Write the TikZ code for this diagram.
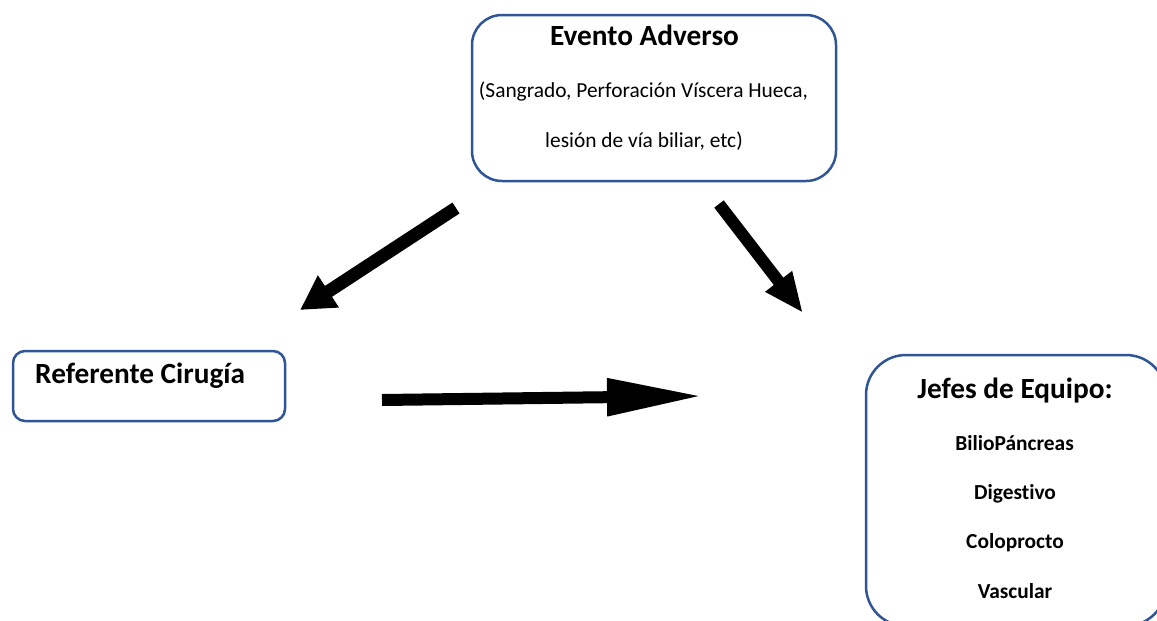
\documentclass[tikz,border=0pt]{standalone}
\usepackage{fontspec}
\setmainfont{Carlito}[Ligatures={NoCommon}]
\usetikzlibrary{arrows.meta}
\definecolor{boxblue}{RGB}{47,85,151}
\tikzset{
  rbox/.style={draw=boxblue, line width=2.5pt, fill=white},
  big/.style={font=\fontsize{29.3}{34}\selectfont\bfseries, inner sep=0pt, anchor=base},
  small/.style={font=\fontsize{21.4}{25}\selectfont, inner sep=0pt, anchor=base},
  smallb/.style={font=\fontsize{21.4}{25}\selectfont\bfseries, inner sep=0pt, anchor=base},
  blockarrow/.style={line cap=butt, draw=black}
}
\begin{document}
\begin{tikzpicture}[x=1pt,y=-1pt]
\useasboundingbox (0,0) rectangle (1157,621);
\begin{scope}
\clip (0,0) rectangle (1157,621);
% boxes
\draw[rbox, rounded corners=30pt] (472,15) rectangle (836,181);
\draw[rbox, rounded corners=12pt] (13,351) rectangle (285,421);
\draw[rbox, rounded corners=40pt] (866,355) rectangle (1166,626);
\end{scope}
% texts
\node[big] (ev) at (644.5,45) {Evento Adverso};
\node[small] (ev2) at (643.5,97) {(Sangrado, Perforación Víscera Hueca,};
\node[small] (ev3) at (644,147) {lesión de vía biliar, etc)};
\node[big, anchor=base west] (ref) at (35,383) {Referente Cirugía};
\node[big] (jef) at (1015,398) {Jefes de Equipo:};
\node[smallb] (j1) at (1014.5,450) {BilioPáncreas};
\node[smallb] (j2) at (1015,499) {Digestivo};
\node[smallb] (j3) at (1015,548) {Coloprocto};
\node[smallb] (j4) at (1015,598) {Vascular};
% arrow coordinates
\coordinate (a1s) at (456,208);
\coordinate (a1e) at (300,310);
\coordinate (a2s) at (719,204);
\coordinate (a2e) at (803,313);
\coordinate (a3s) at (382,400);
\coordinate (a3e) at (703,396);
\draw[blockarrow, line width=13pt, -{Triangle[length=34pt,width=36pt]}] (a1s) -- (a1e);
\draw[blockarrow, line width=12pt, -{Triangle[length=40pt,width=31pt]}] (a2s) -- (a2e);
\draw[blockarrow, line width=12pt, -{Triangle[length=96pt,width=35pt]}] (a3s) -- (a3e);
\end{tikzpicture}
\end{document}
